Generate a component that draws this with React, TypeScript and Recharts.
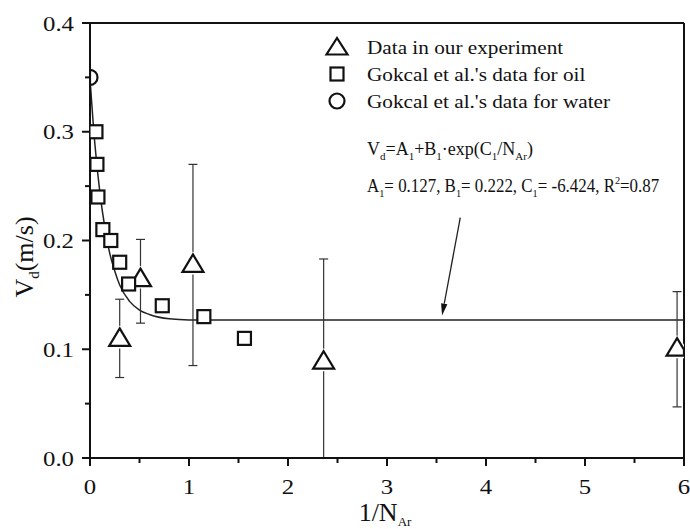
import React from 'react';
import { ComposedChart, Scatter, Line, XAxis, YAxis, ErrorBar, ReferenceLine, Legend } from 'recharts';

// ---- data ----
const expX = [0.3, 0.51, 1.04, 2.36, 5.93];
const expY = [0.11, 0.165, 0.178, 0.089, 0.101];
const expLow = [0.074, 0.124, 0.085, 0.0, 0.047];
const expHigh = [0.146, 0.201, 0.27, 0.183, 0.153];

const oilX = [0.06, 0.07, 0.08, 0.13, 0.21, 0.3, 0.39, 0.73, 1.15, 1.56];
const oilY = [0.3, 0.27, 0.24, 0.21, 0.2, 0.18, 0.16, 0.14, 0.13, 0.11];

const waterX = [0.0];
const waterY = [0.35];

const fitX = [0, 0.05, 0.1, 0.15, 0.2, 0.25, 0.3, 0.4, 0.5, 0.6, 0.8, 1.0, 1.5, 6];
const fitY = [0.349, 0.288, 0.244, 0.212, 0.188, 0.172, 0.159, 0.144, 0.136, 0.132, 0.128, 0.127, 0.127, 0.127];

const seriesNames = ['Data in our experiment', "Gokcal et al.'s data for oil", "Gokcal et al.'s data for water"];

const xMajor = [0, 1, 2, 3, 4, 5, 6];
const xMajorLabels = ['0', '1', '2', '3', '4', '5', '6'];
const xTicks = [0, 0.5, 1, 1.5, 2, 2.5, 3, 3.5, 4, 4.5, 5, 5.5, 6];
const yMajor = [0, 0.1, 0.2, 0.3, 0.4];
const yMajorLabels = ['0.0', '0.1', '0.2', '0.3', '0.4'];
const yTicks = [0, 0.05, 0.1, 0.15, 0.2, 0.25, 0.3, 0.35, 0.4];

// ---- tables ----
const expData = expX.map((x, i) => ({ x, y: expY[i], err: [expY[i] - expLow[i], expHigh[i] - expY[i]] }));
const oilData = oilX.map((x, i) => ({ x, y: oilY[i] }));
const waterData = waterX.map((x, i) => ({ x, y: waterY[i] }));
const fitData = fitX.map((x, i) => ({ x, y: fitY[i] }));

const FONT = "'Liberation Serif', 'Times New Roman', serif";
const INK = '#111';
const SX = 1.18;

// plot frame horizontal limits (layout only, used to clip markers at the frame)
const PLOT_LEFT = 90;
const PLOT_RIGHT = 684;

const near = (a: number, b: number) => Math.abs(a - b) < 1e-6;

// clip a polygon to PLOT_LEFT <= x <= PLOT_RIGHT
type P = [number, number];
const clipEdge = (pts: P[], inside: (p: P) => boolean, xEdge: number): P[] => {
  const out: P[] = [];
  for (let i = 0; i < pts.length; i++) {
    const a = pts[i];
    const b = pts[(i + 1) % pts.length];
    const ia = inside(a);
    const ib = inside(b);
    if (ia) out.push(a);
    if (ia !== ib) {
      const t = (xEdge - a[0]) / (b[0] - a[0]);
      out.push([xEdge, a[1] + t * (b[1] - a[1])]);
    }
  }
  return out;
};
const clipPoly = (pts: P[]): P[] => {
  let r = clipEdge(pts, (p) => p[0] >= PLOT_LEFT, PLOT_LEFT);
  r = clipEdge(r, (p) => p[0] <= PLOT_RIGHT, PLOT_RIGHT);
  return r;
};

const XTick = (props: any) => {
  const { x, y, payload } = props;
  const i = xMajor.findIndex((v) => near(v, payload.value));
  const major = i >= 0;
  return (
    <g>
      <line x1={x} y1={y} x2={x} y2={y + (major ? 8 : 5)} stroke={INK} strokeWidth={2} />
      {major && (
        <text transform={`translate(${x},${y + 36}) scale(${SX},1)`} textAnchor="middle" fontFamily={FONT} fontSize={21} fill={INK}>
          {xMajorLabels[i]}
        </text>
      )}
    </g>
  );
};

const YTick = (props: any) => {
  const { x, y, payload } = props;
  const i = yMajor.findIndex((v) => near(v, payload.value));
  const major = i >= 0;
  return (
    <g>
      <line x1={x} y1={y} x2={x - (major ? 8 : 5)} y2={y} stroke={INK} strokeWidth={2} />
      {major && (
        <text transform={`translate(${x - 16},${y + 7.5}) scale(${SX},1)`} textAnchor="end" fontFamily={FONT} fontSize={21} fill={INK}>
          {yMajorLabels[i]}
        </text>
      )}
    </g>
  );
};

const Tri = (props: any) => {
  const { cx, cy } = props;
  if (cx == null || cy == null) return null;
  const raw: P[] = [
    [cx, cy - 10],
    [cx + 10.5, cy + 7.5],
    [cx - 10.5, cy + 7.5],
  ];
  const pts = clipPoly(raw).map((p) => `${p[0]},${p[1]}`).join(' ');
  return (
    <g>
      <polygon points={pts} fill="#fff" stroke="#fff" strokeWidth={5} strokeLinejoin="round" />
      <polygon points={pts} fill="#fff" stroke={INK} strokeWidth={2.2} />
    </g>
  );
};

const Sq = (props: any) => {
  const { cx, cy } = props;
  if (cx == null || cy == null) return null;
  return <rect x={cx - 6.5} y={cy - 6.5} width={13} height={13} fill="#fff" stroke={INK} strokeWidth={2.2} />;
};

const Circ = (props: any) => {
  const { cx, cy } = props;
  if (cx == null || cy == null) return null;
  const r = 7.5;
  const dx = PLOT_LEFT - cx;
  if (dx > -r && dx < r) {
    const h = Math.sqrt(r * r - dx * dx);
    const large = dx < 0 ? 1 : 0;
    const d = `M ${PLOT_LEFT} ${cy - h} A ${r} ${r} 0 ${large} 1 ${PLOT_LEFT} ${cy + h} Z`;
    return <path d={d} fill="#fff" stroke={INK} strokeWidth={2.2} />;
  }
  return <circle cx={cx} cy={cy} r={r} fill="#fff" stroke={INK} strokeWidth={2.2} />;
};

const Arrow = (props: any) => {
  const { x1, y1, x2, y2 } = props;
  if ([x1, y1, x2, y2].some((v) => v == null || isNaN(v))) return null;
  const dx = x2 - x1;
  const dy = y2 - y1;
  const len = Math.sqrt(dx * dx + dy * dy);
  const ux = dx / len;
  const uy = dy / len;
  const hl = 12;
  const hw = 3.2;
  const bx = x2 - ux * hl;
  const by = y2 - uy * hl;
  const pts = `${x2},${y2} ${bx - uy * hw},${by + ux * hw} ${bx + uy * hw},${by - ux * hw}`;
  return (
    <g>
      <line x1={x1} y1={y1} x2={bx} y2={by} stroke="#222" strokeWidth={1.3} />
      <polygon points={pts} fill="#111" />
    </g>
  );
};

const XTitle = (props: any) => {
  const vb = props.viewBox || { x: 90, y: 458, width: 594 };
  const cx = vb.x + vb.width / 2 - 2;
  return (
    <text x={cx} y={vb.y + 63} textAnchor="middle" fontFamily={FONT} fontSize={26} fill={INK}>
      1/N
      <tspan dy={5} fontSize={13}>Ar</tspan>
    </text>
  );
};

const YTitle = () => {
  return (
    <text transform="translate(33,257) rotate(-90)" textAnchor="middle" fontFamily={FONT} fontSize={26} fill={INK}>
      V
      <tspan dy={6} fontSize={15}>d</tspan>
      <tspan dy={-6}>(m/s)</tspan>
    </text>
  );
};

const LegendContent = () => {
  const rowsY = [27, 54, 81];
  const fs = 18;
  const ss = 11;
  return (
    <svg width={400} height={190} style={{ overflow: 'visible', display: 'block' }}>
      <g>
        <polygon points={`47,${rowsY[0] - 9} 36.5,${rowsY[0] + 7.5} 57.5,${rowsY[0] + 7.5}`} fill="#fff" stroke={INK} strokeWidth={2.2} />
        <rect x={40.5} y={rowsY[1] - 6.5} width={13} height={13} fill="#fff" stroke={INK} strokeWidth={2.2} />
        <circle cx={47} cy={rowsY[2]} r={7.5} fill="#fff" stroke={INK} strokeWidth={2.2} />
        {seriesNames.map((n, i) => (
          <text key={n} transform={`translate(77,${rowsY[i] + 7}) scale(${SX},1)`} fontFamily={FONT} fontSize={fs} fill={INK}>
            {n}
          </text>
        ))}
        <text transform={`translate(77,135) scale(1,1)`} fontFamily={FONT} fontSize={fs} fill={INK}>
          V<tspan dy={5} fontSize={ss}>d</tspan>
          <tspan dy={-5}>=A</tspan>
          <tspan dy={5} fontSize={ss}>1</tspan>
          <tspan dy={-5}>+B</tspan>
          <tspan dy={5} fontSize={ss}>1</tspan>
          <tspan dy={-5}>·exp(C</tspan>
          <tspan dy={5} fontSize={ss}>1</tspan>
          <tspan dy={-5}>/N</tspan>
          <tspan dy={5} fontSize={ss}>Ar</tspan>
          <tspan dy={-5}>)</tspan>
        </text>
        <text transform={`translate(77,172) scale(0.94,1)`} fontFamily={FONT} fontSize={fs} fill={INK}>
          A<tspan dy={5} fontSize={ss}>1</tspan>
          <tspan dy={-5}>= 0.127, B</tspan>
          <tspan dy={5} fontSize={ss}>1</tspan>
          <tspan dy={-5}>= 0.222, C</tspan>
          <tspan dy={5} fontSize={ss}>1</tspan>
          <tspan dy={-5}>= -6.424, R</tspan>
          <tspan dy={-8} fontSize={ss}>2</tspan>
          <tspan dy={8}>=0.87</tspan>
        </text>
      </g>
    </svg>
  );
};

export default function App() {
  return (
    <div style={{ position: 'absolute', left: 0, top: 0, width: 690, height: 529, background: '#fff' }}>
      <ComposedChart width={690} height={529} margin={{ top: 23, right: 6, bottom: 0, left: 0 }}>
        <XAxis
          type="number"
          dataKey="x"
          domain={[0, 6]}
          ticks={xTicks}
          interval={0}
          allowDataOverflow
          height={71}
          tickSize={0}
          tickMargin={0}
          tickLine={false}
          tick={<XTick />}
          axisLine={{ stroke: INK, strokeWidth: 2 }}
          label={(p: any) => <XTitle {...p} />}
        />
        <YAxis
          type="number"
          dataKey="y"
          domain={[0, 0.4]}
          ticks={yTicks}
          interval={0}
          allowDataOverflow
          width={90}
          tickSize={0}
          tickMargin={0}
          tickLine={false}
          tick={<YTick />}
          axisLine={{ stroke: INK, strokeWidth: 2 }}
          label={() => <YTitle />}
        />
        <ReferenceLine y={0.4} stroke={INK} strokeWidth={2} />
        <ReferenceLine x={6} stroke={INK} strokeWidth={2} />
        <ReferenceLine
          segment={[{ x: 3.74, y: 0.221 }, { x: 3.556, y: 0.131 }]}
          ifOverflow="visible"
          shape={(p: any) => <Arrow {...p} />}
        />
        <Line
          data={fitData}
          dataKey="y"
          type="monotone"
          dot={false}
          activeDot={false}
          stroke="#222"
          strokeWidth={1.5}
          isAnimationActive={false}
          legendType="none"
        />
        <Scatter name={seriesNames[0]} data={expData} dataKey="y" shape={(p: any) => <Tri {...p} />} isAnimationActive={false}>
          <ErrorBar dataKey="err" direction="y" width={4.5} stroke="#333" strokeWidth={1.2} />
        </Scatter>
        <Scatter name={seriesNames[1]} data={oilData} dataKey="y" shape={(p: any) => <Sq {...p} />} isAnimationActive={false} />
        <Scatter name={seriesNames[2]} data={waterData} dataKey="y" shape={(p: any) => <Circ {...p} />} isAnimationActive={false} />
        <Legend
          layout="vertical"
          align="center"
          verticalAlign="middle"
          content={() => <LegendContent />}
          wrapperStyle={{ left: 290, top: 20, width: 400, height: 190 }}
        />
      </ComposedChart>
    </div>
  );
}
